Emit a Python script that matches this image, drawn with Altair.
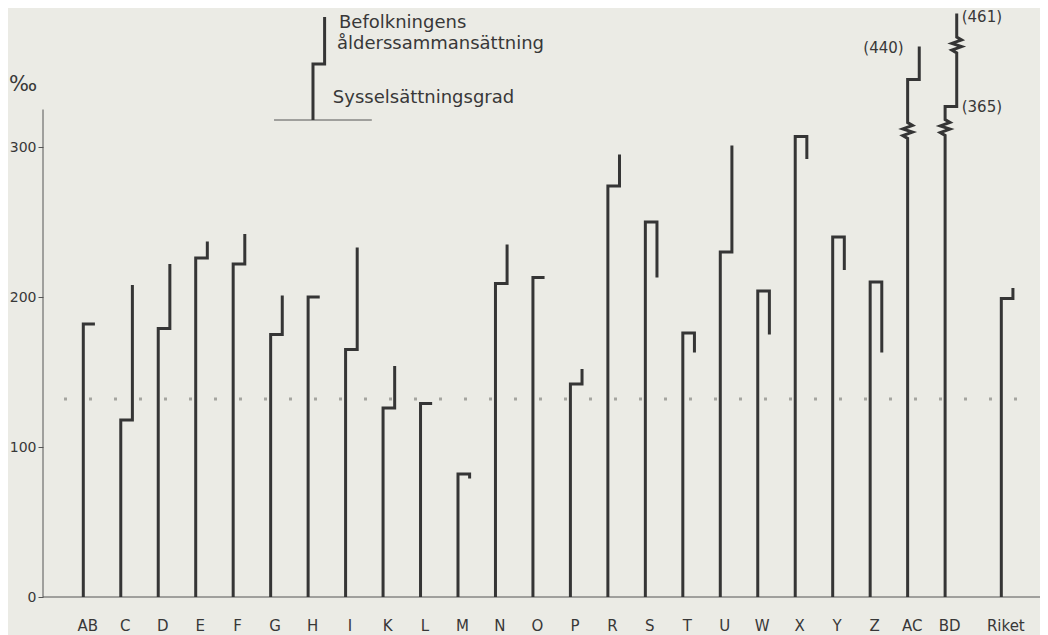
import altair as alt
import pandas as pd

# ---------------- data ----------------
COUNTIES = ["AB", "C", "D", "E", "F", "G", "H", "I", "K", "L", "M", "N", "O", "P",
            "R", "S", "T", "U", "W", "X", "Y", "Z", "AC", "BD", "Riket"]
# level after the first component (Sysselsättningsgrad), per mille
SYSSELSATTNING = [182, 118, 179, 226, 222, 175, 200, 165, 126, 129, 82, 209, 213, 142,
                  274, 250, 176, 230, 204, 307, 240, 210, 345, 327, 199]
# level after adding Befolkningens ålderssammansättning, per mille
TOTAL = [182, 208, 222, 237, 242, 201, 200, 233, 154, 129, 79, 235, 213, 152,
         295, 213, 163, 301, 175, 292, 218, 163, 367, 389, 206]
# scale breaks (drawn level) for the off-scale counties
BREAKS_LOWER = {"AC": 311, "BD": 313}
BREAKS_UPPER = {"BD": 368}
# printed true values for the off-scale counties
OFFSCALE_TEXT = ["(440)", "(461)", "(365)"]
OFFSCALE_COUNTY = ["AC", "BD", "BD"]
OFFSCALE_LEVEL = [366, 386.5, 327]
REF_LEVEL = 132
Y_TICKS = [0, 100, 200, 300]
LEGEND_TEXT = ["Befolkningens", "ålderssammansättning", "Sysselsättningsgrad"]
UNIT = "‰"

# ---------------- layout ----------------
PX_X = 37.47            # pixels per county slot
PX_Y = 1.5              # pixels per per-mille unit
WIDTH = 997
XMIN = -1.0755
XMAX = XMIN + WIDTH / PX_X
HEIGHT = 627
YMAX = 392.667
YMIN = YMAX - HEIGHT / PX_Y
HOOK = 0.31
INK = "#353535"
TEXT = "#383838"
FONT = "DejaVu Sans"

pos = {c: (i if c != "Riket" else 24.5) for i, c in enumerate(COUNTIES)}

ZIG = [(0, 5.3), (0.13, 3.4), (-0.13, 1.1), (0.13, -1.1), (-0.13, -3.4), (0, -5.3)]

rows = []
for c, lo, hi in zip(COUNTIES, SYSSELSATTNING, TOTAL):
    p = pos[c]
    pts = [(p, 0)]
    if c in BREAKS_LOWER:
        b = BREAKS_LOWER[c]
        pts += [(p + dx, b + dy) for dx, dy in reversed(ZIG)]
    pts += [(p, lo), (p + HOOK, lo)]
    if c in BREAKS_UPPER:
        b = BREAKS_UPPER[c]
        pts += [(p + HOOK + dx, b + dy) for dx, dy in reversed(ZIG)]
    pts.append((p + HOOK, hi))
    for k, (x, y) in enumerate(pts):
        rows.append({"id": c, "seq": k, "x": x, "y": y})

# legend key glyph
LX, LY0, LY1, LY2 = 6.13, 318, 355.3, 386.7
for k, (x, y) in enumerate([(LX, LY0), (LX, LY1), (LX + HOOK, LY1), (LX + HOOK, LY2)]):
    rows.append({"id": "legend", "seq": k, "x": x, "y": y})
paths = pd.DataFrame(rows)

xs = alt.Scale(domain=[XMIN, XMAX], nice=False, zero=False)
ys = alt.Scale(domain=[YMIN, YMAX], nice=False, zero=False)
Y_AXIS = alt.Axis(
    values=Y_TICKS, domain=False, grid=False, title=None, tickSize=5,
    tickColor="#555555", tickWidth=1, labelFont=FONT, labelFontSize=14,
    labelColor=TEXT, labelPadding=2)


def X(f="x:Q"):
    return alt.X(f, scale=xs, axis=None)


def Y(f="y:Q"):
    return alt.Y(f, scale=ys, axis=Y_AXIS)


lines = alt.Chart(paths).mark_line(
    color=INK, strokeWidth=3, strokeJoin="miter", strokeCap="butt"
).encode(x=X(), y=Y(), detail="id:N", order="seq:Q")

rules_df = pd.DataFrame([
    {"x": XMIN, "x2": XMAX, "y": 0, "y2": 0},
    {"x": XMIN, "x2": XMIN, "y": 0, "y2": 325},
    {"x": 5.09, "x2": 7.70, "y": LY0, "y2": LY0},
])
rules = alt.Chart(rules_df).mark_rule(color="#555555", strokeWidth=1).encode(
    x=X(), x2="x2:Q", y=Y(), y2="y2:Q")

dots = alt.Chart(pd.DataFrame({"x": [-0.515], "x2": [25.5], "y": [REF_LEVEL]})).mark_rule(
    color="#a5a5a0", strokeWidth=3, strokeDash=[3, 22]
).encode(x=X(), x2="x2:Q", y=Y())

lab_df = pd.DataFrame({"label": COUNTIES, "x": [pos[c] + 0.12 for c in COUNTIES], "y": -19.3})
labels = alt.Chart(lab_df).mark_text(
    font=FONT, fontSize=15, color=TEXT, baseline="middle", align="center"
).encode(x=X(), y=Y(), text="label:N")

off_df = pd.DataFrame({
    "label": OFFSCALE_TEXT,
    "x": [pos[c] + (0 if t == "(440)" else HOOK) for c, t in zip(OFFSCALE_COUNTY, OFFSCALE_TEXT)],
    "y": OFFSCALE_LEVEL,
})
off_right = alt.Chart(off_df[off_df.label == "(440)"]).mark_text(
    font=FONT, fontSize=15, color=TEXT, baseline="middle", align="right", dx=-4
).encode(x=X(), y=Y(), text="label:N")
off_left = alt.Chart(off_df[off_df.label != "(440)"]).mark_text(
    font=FONT, fontSize=15, color=TEXT, baseline="middle", align="left", dx=5
).encode(x=X(), y=Y(), text="label:N")

leg_df = pd.DataFrame({"label": LEGEND_TEXT, "x": [6.824, 6.77, 6.66], "y": [382.7, 368.7, 332.7]})
legend_text = alt.Chart(leg_df).mark_text(
    font=FONT, fontSize=18, color=TEXT, baseline="middle", align="left"
).encode(x=X(), y=Y(), text="label:N")

unit = alt.Chart(pd.DataFrame({"label": [UNIT], "x": [-1.61], "y": [341.3]})).mark_text(
    font=FONT, fontSize=21, color=TEXT, baseline="middle", align="center"
).encode(x=X(), y=Y(), text="label:N")

chart = alt.layer(dots, rules, lines, labels, off_right, off_left, legend_text, unit).properties(
    width=WIDTH, height=HEIGHT,
    padding={"left": 35, "top": 0, "right": 0, "bottom": 0},
    autosize=alt.AutoSizeParams(type="none"),
    background="#ebebe5",
).configure_view(stroke=None)

chart.save("out.html", embed_options={"renderer": "svg", "actions": False})
